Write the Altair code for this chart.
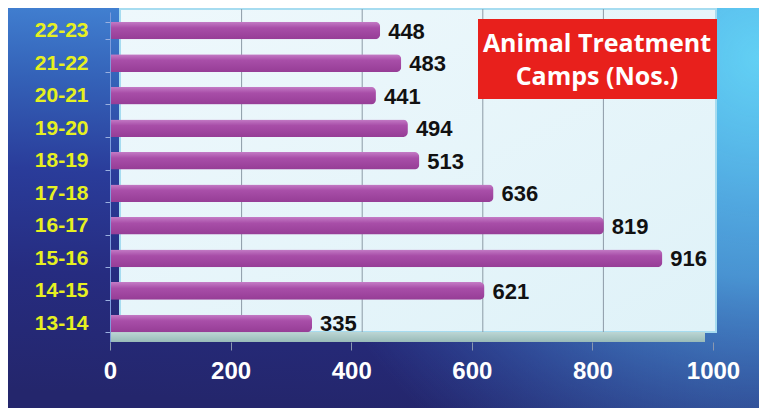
import altair as alt
import pandas as pd

years = ["22-23", "21-22", "20-21", "19-20", "18-19", "17-18", "16-17", "15-16", "14-15", "13-14"]
camps = [448, 483, 441, 494, 513, 636, 819, 916, 621, 335]
x_ticks = [0, 200, 400, 600, 800, 1000]
grid_ticks = [200, 400, 600, 800]
title_lines = ["Animal Treatment", "Camps (Nos.)"]

W, H = 603, 330
df = pd.DataFrame({"year": years, "camps": camps})
one = alt.Data(values=[{}])

xscale = alt.Scale(domain=[0, 1000], nice=False, zero=True)
yscale = alt.Scale(domain=years, paddingInner=0.46, paddingOuter=0.3)

bg = alt.Chart(one).mark_rect(
    fill=alt.Gradient(
        gradient="linear",
        stops=[
            alt.GradientStop(color="#4486d6", offset=0),
            alt.GradientStop(color="#3462b8", offset=0.22),
            alt.GradientStop(color="#2a3c9a", offset=0.45),
            alt.GradientStop(color="#262c80", offset=0.7),
            alt.GradientStop(color="#24266c", offset=1),
        ],
        x1=0.55, y1=0, x2=0.45, y2=1,
    )
).encode(x=alt.value(-102), x2=alt.value(W + 46), y=alt.value(-4), y2=alt.value(H + 66))

glow = alt.Chart(one).mark_rect(
    fill=alt.Gradient(
        gradient="radial",
        stops=[
            alt.GradientStop(color="rgba(98,208,244,1)", offset=0),
            alt.GradientStop(color="rgba(84,180,234,0.75)", offset=0.45),
            alt.GradientStop(color="rgba(60,120,210,0)", offset=1),
        ],
        x1=1, y1=0.3, r1=0, x2=1, y2=0.3, r2=0.65,
    )
).encode(x=alt.value(-102), x2=alt.value(W + 46), y=alt.value(-4), y2=alt.value(H + 66))

wall = alt.Chart(one).mark_rect(
    fill=alt.Gradient(
        gradient="linear",
        stops=[alt.GradientStop(color="#eef8fc", offset=0), alt.GradientStop(color="#dff2f8", offset=1)],
        x1=0, y1=0, x2=1, y2=1,
    ),
    stroke="#a6dcf0", strokeWidth=2,
).encode(x=alt.value(10), x2=alt.value(W + 3), y=alt.value(-3), y2=alt.value(H - 10))

floor = alt.Chart(one).mark_rect(
    fill=alt.Gradient(
        gradient="linear",
        stops=[alt.GradientStop(color="#bcd6d4", offset=0), alt.GradientStop(color="#98bab8", offset=1)],
        x1=0, y1=0, x2=0, y2=1,
    )
).encode(x=alt.value(0), x2=alt.value(W - 8), y=alt.value(H - 10), y2=alt.value(H))

grid = alt.Chart(pd.DataFrame({"t": grid_ticks})).mark_rule(
    color="#8c9aa6", strokeWidth=1, xOffset=11
).encode(x=alt.X("t:Q", scale=xscale), y=alt.value(-3), y2=alt.value(H - 10))

bars = alt.Chart(df).mark_bar(
    cornerRadiusEnd=5,
    fill=alt.Gradient(
        gradient="linear",
        stops=[
            alt.GradientStop(color="#c47cc6", offset=0),
            alt.GradientStop(color="#a84ea8", offset=0.35),
            alt.GradientStop(color="#963d96", offset=1),
        ],
        x1=0, y1=0, x2=0, y2=1,
    ),
).encode(
    x=alt.X(
        "camps:Q", scale=xscale, title=None,
        axis=alt.Axis(
            values=x_ticks, format="d", grid=False, domain=False, tickSize=8, tickColor="#8a98b0",
            labelColor="white", labelFont="Liberation Sans", labelFontWeight="bold",
            labelFontSize=24, labelPadding=9, labelFlush=False, labelOverlap=False, zindex=1,
        ),
    ),
    y=alt.Y(
        "year:N", scale=yscale, sort=years, title=None,
        axis=alt.Axis(
            grid=False, domain=True, domainColor="#7d9cdc", tickSize=5, tickColor="#9ab0e0",
            tickBand="extent", labelColor="#e6f020", labelFont="Liberation Sans",
            labelFontWeight="bold", labelFontSize=21, labelPadding=17, zindex=1,
        ),
    ),
)

labels = alt.Chart(df).mark_text(
    align="left", baseline="middle", dx=8, dy=1, font="Liberation Sans",
    fontWeight="bold", fontSize=22, color="#111111",
).encode(x=alt.X("camps:Q", scale=xscale), y=alt.Y("year:N", scale=yscale, sort=years), text=alt.Text("camps:Q"))

box = alt.Chart(one).mark_rect(fill="#e8201c").encode(
    x=alt.value(368), x2=alt.value(607), y=alt.value(7), y2=alt.value(87)
)
line1 = alt.Chart(one).mark_text(
    align="center", baseline="middle", font="Open Sans", fontWeight="bold",
    fontSize=25, color="white",
).encode(x=alt.value(487), y=alt.value(32), text=alt.value(title_lines[0]))
line2 = alt.Chart(one).mark_text(
    align="center", baseline="middle", font="Open Sans", fontWeight="bold",
    fontSize=25, color="white",
).encode(x=alt.value(487), y=alt.value(65), text=alt.value(title_lines[1]))

chart = alt.layer(bg, glow, wall, floor, grid, bars, labels, box, line1, line2).properties(
    width=W, height=H,
    autosize=alt.AutoSizeParams(type="none"),
    padding={"left": 102, "top": 4, "right": 46, "bottom": 66},
    background="white",
).configure_view(stroke=None)

chart.save("out.html", embed_options={"renderer": "svg", "actions": False})
